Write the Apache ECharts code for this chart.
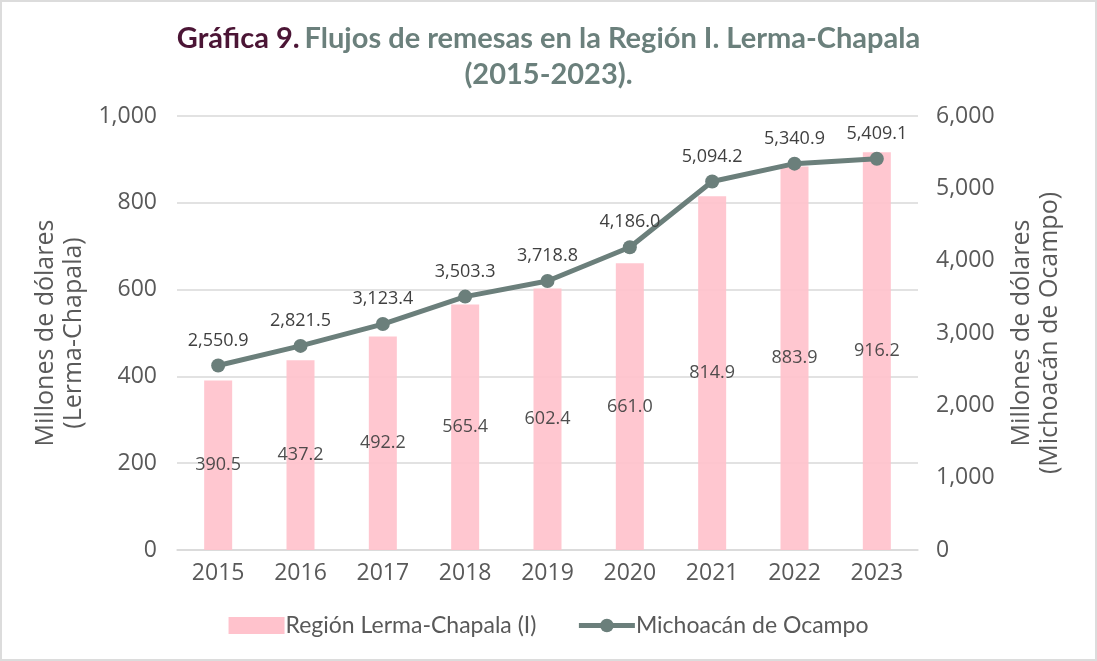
<!DOCTYPE html>
<html>
<head>
<meta charset="utf-8">
<script src="https://cdn.jsdelivr.net/npm/echarts@6/dist/echarts.min.js"></script>
<style>
  html, body { margin: 0; padding: 0; background: #fff; }
  #chart { width: 1097px; height: 661px; box-sizing: border-box; border: 2px solid #dcdcdc; }
</style>
</head>
<body>
<div id="chart"></div>
<script>
// datos
var years = ['2015', '2016', '2017', '2018', '2019', '2020', '2021', '2022', '2023'];
var lermaChapala = [390.5, 437.2, 492.2, 565.4, 602.4, 661.0, 814.9, 883.9, 916.2];
var michoacan = [2550.9, 2821.5, 3123.4, 3503.3, 3718.8, 4186.0, 5094.2, 5340.9, 5409.1];
var leftTicks = [0, 200, 400, 600, 800, 1000];
var rightTicks = [0, 1000, 2000, 3000, 4000, 5000, 6000];

var fmt = function (v, d) {
  return Number(v).toLocaleString('en-US', { minimumFractionDigits: d, maximumFractionDigits: d });
};

var txt = '#595959';
var font = 'Open Sans';
var titleFont = 'Lato';
var gris = '#6b7f7b';

var chart = echarts.init(document.getElementById('chart'));
var option = {
  animation: false,
  title: [{
    left: 'center',
    top: 17,
    text: '{a|Gráfica 9.} {b|Flujos de remesas en la Región I. Lerma-Chapala}',
    textStyle: {
      rich: {
        a: { color: '#4b1535', fontSize: 29, fontWeight: 'bold', fontFamily: titleFont },
        b: { color: '#6b807c', fontSize: 29, fontWeight: 'bold', fontFamily: titleFont }
      }
    }
  }, {
    left: 'center',
    top: 53,
    text: '(2015-2023).',
    textStyle: { color: '#6b807c', fontSize: 29, fontWeight: 'bold', fontFamily: titleFont }
  }],
  legend: {
    bottom: 17,
    left: 'center',
    itemWidth: 56,
    itemHeight: 17,
    itemGap: 40,
    textStyle: { color: txt, fontSize: 23, fontFamily: titleFont, padding: [0, 0, 0, -4] },
    data: [
      { name: 'Región Lerma-Chapala (I)', icon: 'rect', itemStyle: { opacity: 1 } },
      { name: 'Michoacán de Ocampo', lineStyle: { width: 5, color: gris } }
    ]
  },
  grid: { left: 175, right: 177, top: 114, bottom: 109 },
  xAxis: {
    type: 'category',
    data: years,
    axisLine: { lineStyle: { color: '#d9d9d9', width: 1.5 } },
    axisTick: { show: false },
    axisLabel: { color: txt, fontSize: 23, fontFamily: font, margin: 12 }
  },
  yAxis: [{
    type: 'value',
    min: leftTicks[0],
    max: leftTicks[leftTicks.length - 1],
    interval: 200,
    name: 'Millones de dólares\n(Lerma-Chapala)',
    nameLocation: 'middle',
    nameGap: 87,
    nameTextStyle: { color: txt, fontSize: 25, fontFamily: font, lineHeight: 28 },
    axisLine: { show: false },
    axisTick: { show: false },
    splitLine: { lineStyle: { color: '#d9d9d9', width: 1.5 } },
    axisLabel: { color: txt, fontSize: 23, fontFamily: font, margin: 20, formatter: function (v) { return fmt(v, 0); } }
  }, {
    type: 'value',
    min: rightTicks[0],
    max: rightTicks[rightTicks.length - 1],
    interval: 1000,
    name: 'Millones de dólares\n(Michoacán de Ocampo)',
    nameLocation: 'middle',
    nameGap: 90,
    nameTextStyle: { color: txt, fontSize: 25, fontFamily: font, lineHeight: 28 },
    axisLine: { show: false },
    axisTick: { show: false },
    splitLine: { show: false },
    axisLabel: { color: txt, fontSize: 23, fontFamily: font, margin: 18, formatter: function (v) { return fmt(v, 0); } }
  }],
  series: [{
    name: 'Región Lerma-Chapala (I)',
    type: 'bar',
    yAxisIndex: 0,
    data: lermaChapala,
    barWidth: 28,
    itemStyle: { color: '#ffc2cc', opacity: 0.92 },
    label: {
      show: true,
      position: 'inside',
      color: '#404040',
      fontSize: 18,
      fontFamily: font,
      formatter: function (p) { return fmt(p.value, 1); }
    },
    z: 1
  }, {
    name: 'Michoacán de Ocampo',
    type: 'line',
    yAxisIndex: 1,
    data: michoacan,
    symbol: 'circle',
    symbolSize: 14,
    lineStyle: { color: gris, width: 5 },
    itemStyle: { color: gris },
    label: {
      show: true,
      position: 'top',
      distance: 9,
      color: '#404040',
      fontSize: 18,
      fontFamily: font,
      formatter: function (p) { return fmt(p.value, 1); }
    },
    z: 3
  }]
};
chart.setOption(option);
</script>
</body>
</html>
